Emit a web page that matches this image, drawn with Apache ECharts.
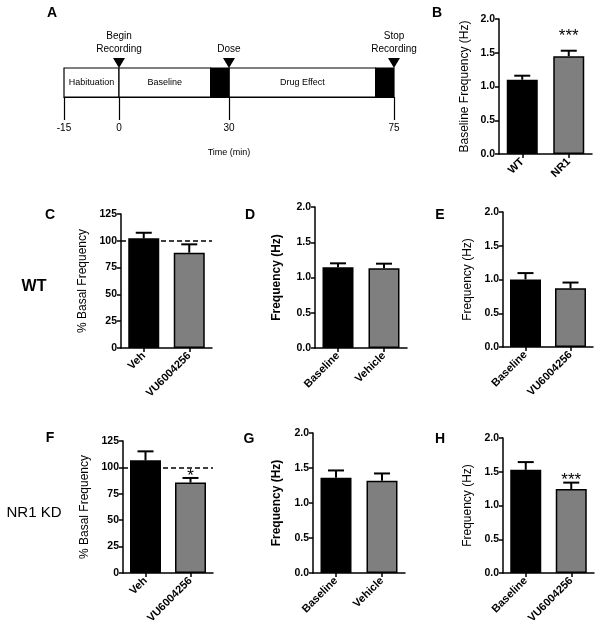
<!DOCTYPE html>
<html><head><meta charset="utf-8">
<script src="https://cdn.jsdelivr.net/npm/echarts@6/dist/echarts.min.js"></script>
<style>html,body{margin:0;padding:0;background:#fff}#c{width:602px;height:634px}</style>
</head><body><div id="c"></div>
<script>
// ---------- DATA ----------
// Panel A: timeline (minutes)
const timeTicks = [-15, 0, 30, 75];
const phaseNames = ['Habituation', 'Baseline', 'Drug Effect'];
const phaseStart = [-15, 0, 30];
const phaseEnd = [0, 25, 70];
const blackoutStart = [25, 70];
const blackoutEnd = [30, 75];
const eventTimes = [0, 30, 75];
const eventNames = ['Begin\nRecording', 'Dose', 'Stop\nRecording'];

// Tick labels
const freqTickLabels = ['0.0', '0.5', '1.0', '1.5', '2.0'];
const pctTickLabels = ['0', '25', '50', '75', '100', '125'];

// Panel B
const catsGenotype = ['WT', 'NR1'];
const baseFreqMean = [1.10, 1.45];
const baseFreqErr = [0.06, 0.08];
const baseFreqSig = ['', '***'];
const baseFreqSigY = [0, 1.74];

// Categories for C-H
const catsDrug = ['Veh', 'VU6004256'];
const catsVehicle = ['Baseline', 'Vehicle'];
const catsCompound = ['Baseline', 'VU6004256'];
const pctReference = 100;

// Panel C (WT, % basal)
const wtPctMean = [102.3, 88.9];
const wtPctErr = [5.2, 7.8];
// Panel D (WT, vehicle)
const wtVehMean = [1.145, 1.13];
const wtVehErr = [0.056, 0.066];
// Panel E (WT, VU6004256)
const wtVUMean = [1.0, 0.87];
const wtVUErr = [0.095, 0.085];
// Panel F (NR1 KD, % basal)
const kdPctMean = [106.7, 85.6];
const kdPctErr = [8.5, 4.4];
const kdPctSig = ['', '*'];
const kdPctSigY = [0, 92.0];
// Panel G (NR1 KD, vehicle)
const kdVehMean = [1.36, 1.317];
const kdVehErr = [0.105, 0.105];
// Panel H (NR1 KD, VU6004256)
const kdVUMean = [1.528, 1.245];
const kdVUErr = [0.115, 0.094];
const kdVUSig = ['', '***'];
const kdVUSigY = [0, 1.38];

// ---------- STYLE / LAYOUT ----------
const FONT = "'Liberation Sans', Arial, sans-serif";
const barColors = ['#000000', '#7f7f7f'];

const grids = [
  { left: 64, top: 68, width: 330, height: 29 },   // A
  { left: 499, top: 19, width: 93, height: 135 },  // B
  { left: 121, top: 214, width: 91, height: 134 }, // C
  { left: 315, top: 207, width: 92, height: 141 }, // D
  { left: 503, top: 212, width: 90, height: 135 }, // E
  { left: 123, top: 441, width: 90, height: 132 }, // F
  { left: 313, top: 433, width: 92, height: 140 }, // G
  { left: 503, top: 438, width: 91, height: 135 }  // H
];

const xAxes = [];
const yAxes = [];
const series = [];

// ----- Panel A -----
xAxes.push({
  gridIndex: 0, type: 'value', min: -15, max: 75,
  axisLine: { show: true, lineStyle: { color: '#000', width: 1.2 } },
  axisTick: { show: true, customValues: timeTicks, length: 23, lineStyle: { color: '#000', width: 1.2 } },
  axisLabel: { show: true, customValues: timeTicks, margin: 26, fontSize: 10, color: '#000', fontFamily: FONT,
    formatter: v => String(v) },
  splitLine: { show: false },
  name: 'Time (min)', nameLocation: 'middle', nameGap: 51,
  nameTextStyle: { fontSize: 9, color: '#000', fontFamily: FONT }
});
yAxes.push({ gridIndex: 0, type: 'value', min: 0, max: 1, show: false });

series.push({
  type: 'custom', xAxisIndex: 0, yAxisIndex: 0, clip: false, z: 5,
  data: phaseNames.map((n, i) => [phaseStart[i], phaseEnd[i]]),
  encode: { x: [0, 1] },
  renderItem: (params, api) => {
    const i = params.dataIndex;
    const p0 = api.coord([api.value(0), 1]);
    const p1 = api.coord([api.value(1), 0]);
    const cx = (p0[0] + p1[0]) / 2, cy = (p0[1] + p1[1]) / 2;
    return { type: 'group', children: [
      { type: 'rect', shape: { x: p0[0], y: p0[1], width: p1[0] - p0[0], height: p1[1] - p0[1] },
        style: { fill: '#fff', stroke: '#000', lineWidth: 1.2 } },
      { type: 'text', x: cx, y: cy, style: { text: phaseNames[i], fontSize: 9, fontFamily: FONT, fill: '#000',
        align: 'center', verticalAlign: 'middle' } }
    ] };
  }
});
series.push({
  type: 'custom', xAxisIndex: 0, yAxisIndex: 0, clip: false, z: 6,
  data: blackoutStart.map((s, i) => [s, blackoutEnd[i]]),
  encode: { x: [0, 1] },
  renderItem: (params, api) => {
    const p0 = api.coord([api.value(0), 1]);
    const p1 = api.coord([api.value(1), 0]);
    return { type: 'rect', shape: { x: p0[0], y: p0[1], width: p1[0] - p0[0], height: p1[1] - p0[1] },
      style: { fill: '#000', stroke: '#000', lineWidth: 1.2 } };
  }
});
series.push({
  type: 'custom', xAxisIndex: 0, yAxisIndex: 0, clip: false, z: 7,
  data: eventTimes.map(t => [t]),
  encode: { x: 0 },
  renderItem: (params, api) => {
    const p = api.coord([api.value(0), 1]);
    return { type: 'group', children: [
      { type: 'polygon', shape: { points: [[p[0] - 6, p[1] - 10], [p[0] + 6, p[1] - 10], [p[0], p[1]]] },
        style: { fill: '#000' } },
      { type: 'text', x: p[0], y: p[1] - 12, style: { text: eventNames[params.dataIndex], fontSize: 10,
        lineHeight: 13, fontFamily: FONT, fill: '#000', align: 'center', verticalAlign: 'bottom' } }
    ] };
  }
});

// ----- Bar panels -----
function addBarPanel(g, cats, means, errs, tickLabels, yMax, yInterval, yName, nameBold, nameGap, sig, sigY, refLine) {
  xAxes.push({
    gridIndex: g, type: 'category', data: cats,
    axisLine: { show: true, lineStyle: { color: '#000', width: 1.5 } },
    axisTick: { show: true, alignWithLabel: true, length: 4, lineStyle: { color: '#000', width: 1.5 } },
    axisLabel: { rotate: 45, interval: 0, margin: 6, fontSize: 11, fontWeight: 'bold', color: '#000', fontFamily: FONT }
  });
  yAxes.push({
    gridIndex: g, type: 'value', min: 0, max: yMax, interval: yInterval,
    axisLine: { show: true, lineStyle: { color: '#000', width: 1.5 } },
    axisTick: { show: true, length: 4, lineStyle: { color: '#000', width: 1.5 } },
    axisLabel: { margin: 4, fontSize: 10.5, fontWeight: 'bold', color: '#000', fontFamily: FONT,
      formatter: v => tickLabels[Math.round(v / yInterval)] },
    splitLine: { show: false },
    name: yName, nameLocation: 'middle', nameGap: nameGap,
    nameTextStyle: { fontSize: 12, fontWeight: nameBold ? 'bold' : 'normal', color: '#000', fontFamily: FONT }
  });
  const idx = xAxes.length - 1;
  const bar = {
    type: 'bar', xAxisIndex: idx, yAxisIndex: idx, barWidth: 31,
    data: means.map((m, i) => ({ value: m, itemStyle: { color: barColors[i], borderColor: '#000', borderWidth: 1.5 } })),
    z: 3
  };
  if (refLine !== undefined) {
    bar.markLine = { silent: true, symbol: ['none', 'none'], label: { show: false },
      lineStyle: { type: [5, 3], color: '#000', width: 1.5 }, data: [{ yAxis: refLine }] };
  }
  series.push(bar);
  series.push({
    type: 'custom', xAxisIndex: idx, yAxisIndex: idx, z: 10, clip: false,
    data: means.map((m, i) => [i, m, errs[i]]),
    encode: { x: 0, y: 1 },
    renderItem: (params, api) => {
      const x = api.value(0), m = api.value(1), e = api.value(2);
      const p0 = api.coord([x, m]);
      const p1 = api.coord([x, m + e]);
      return { type: 'group', children: [
        { type: 'line', shape: { x1: p0[0], y1: p0[1], x2: p1[0], y2: p1[1] }, style: { stroke: '#000', lineWidth: 2 } },
        { type: 'line', shape: { x1: p1[0] - 8, y1: p1[1], x2: p1[0] + 8, y2: p1[1] }, style: { stroke: '#000', lineWidth: 2 } }
      ] };
    }
  });
  if (sig) {
    series.push({
      type: 'custom', xAxisIndex: idx, yAxisIndex: idx, z: 11, clip: false,
      data: sig.map((s, i) => [i, sigY[i]]),
      encode: { x: 0, y: 1 },
      renderItem: (params, api) => {
        const t = sig[params.dataIndex];
        if (!t) return null;
        const p = api.coord([api.value(0), api.value(1)]);
        return { type: 'text', x: p[0], y: p[1], style: { text: t, fontSize: 17, fontFamily: FONT, fill: '#000',
          align: 'center', verticalAlign: 'middle' } };
      }
    });
  }
}

addBarPanel(1, catsGenotype, baseFreqMean, baseFreqErr, freqTickLabels, 2, 0.5, 'Baseline Frequency (Hz)', false, 28, baseFreqSig, baseFreqSigY);
addBarPanel(2, catsDrug, wtPctMean, wtPctErr, pctTickLabels, 125, 25, '% Basal Frequency', false, 32, null, null, pctReference);
addBarPanel(3, catsVehicle, wtVehMean, wtVehErr, freqTickLabels, 2, 0.5, 'Frequency (Hz)', true, 32);
addBarPanel(4, catsCompound, wtVUMean, wtVUErr, freqTickLabels, 2, 0.5, 'Frequency (Hz)', false, 29);
addBarPanel(5, catsDrug, kdPctMean, kdPctErr, pctTickLabels, 125, 25, '% Basal Frequency', false, 32, kdPctSig, kdPctSigY, pctReference);
addBarPanel(6, catsVehicle, kdVehMean, kdVehErr, freqTickLabels, 2, 0.5, 'Frequency (Hz)', true, 30);
addBarPanel(7, catsCompound, kdVUMean, kdVUErr, freqTickLabels, 2, 0.5, 'Frequency (Hz)', false, 29, kdVUSig, kdVUSigY);

// Panel letters and row labels
const letterStyle = (t) => ({ text: t, fontSize: 14, fontWeight: 'bold', fontFamily: FONT, fill: '#000', align: 'center', verticalAlign: 'middle' });
const graphic = [
  { type: 'text', x: 52, y: 13, style: letterStyle('A') },
  { type: 'text', x: 437, y: 13, style: letterStyle('B') },
  { type: 'text', x: 50, y: 215, style: letterStyle('C') },
  { type: 'text', x: 250, y: 215, style: letterStyle('D') },
  { type: 'text', x: 440, y: 215, style: letterStyle('E') },
  { type: 'text', x: 50, y: 438, style: letterStyle('F') },
  { type: 'text', x: 249, y: 439, style: letterStyle('G') },
  { type: 'text', x: 440, y: 439, style: letterStyle('H') },
  { type: 'text', x: 34, y: 287, style: { text: 'WT', fontSize: 16, fontWeight: 'bold', fontFamily: FONT, fill: '#000', align: 'center', verticalAlign: 'middle' } },
  { type: 'text', x: 34, y: 513, style: { text: 'NR1 KD', fontSize: 15, fontFamily: FONT, fill: '#000', align: 'center', verticalAlign: 'middle' } }
];

const chart = echarts.init(document.getElementById('c'), null, { renderer: 'canvas' });
chart.setOption({
  animation: false,
  backgroundColor: '#fff',
  textStyle: { fontFamily: FONT },
  grid: grids,
  xAxis: xAxes,
  yAxis: yAxes,
  series: series,
  graphic: graphic
});
</script></body></html>
